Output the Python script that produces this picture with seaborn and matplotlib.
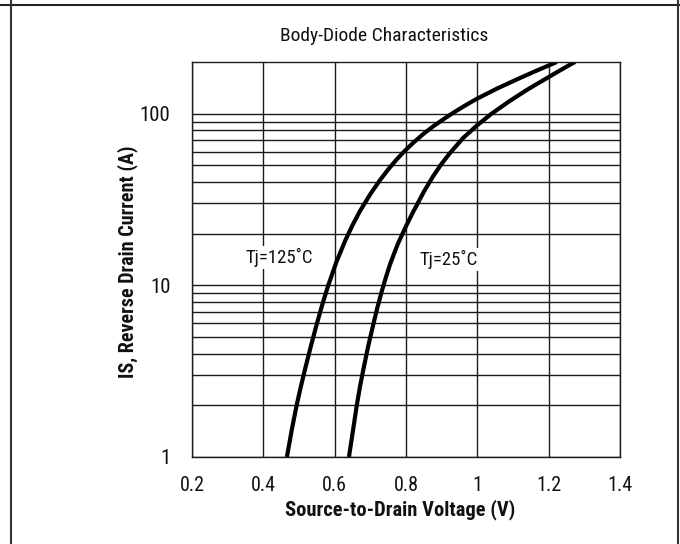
import numpy as np
import pandas as pd
import matplotlib
matplotlib.use("Agg")
import matplotlib.pyplot as plt
from matplotlib import font_manager as fm
from matplotlib.lines import Line2D
from matplotlib.ticker import FixedLocator, NullFormatter
import seaborn as sns

# ---- data ----
v_125 = [0.466, 0.480, 0.494, 0.505, 0.517, 0.533, 0.550, 0.566, 0.582, 0.605,
         0.630, 0.650, 0.671, 0.700, 0.727, 0.750, 0.774, 0.797, 0.820, 0.848,
         0.876, 0.906, 0.937, 0.968, 0.998, 1.055, 1.110, 1.160, 1.213, 1.223]
i_125 = [1.00, 1.45, 2.03, 2.56, 3.25, 4.40, 5.97, 7.81, 10.0, 13.7,
         18.3, 22.4, 27.1, 34.0, 41.0, 47.3, 54.2, 60.8, 67.6, 76.0,
         84.3, 93.1, 102.6, 112.3, 121.9, 140.0, 158.0, 175.9, 196.0, 200.0]

v_25 = [0.640, 0.651, 0.662, 0.671, 0.680, 0.694, 0.708, 0.720, 0.732, 0.744,
        0.755, 0.766, 0.778, 0.800, 0.820, 0.829, 0.850, 0.876, 0.900, 0.923,
        0.960, 0.998, 1.040, 1.092, 1.140, 1.185, 1.230, 1.269, 1.275]
i_25 = [1.00, 1.41, 2.00, 2.57, 3.20, 4.42, 5.89, 7.45, 9.23, 11.2,
        13.2, 15.2, 17.6, 22.1, 26.8, 29.0, 35.1, 43.2, 51.1, 58.9,
        72.1, 85.1, 100.0, 119.0, 138.0, 156.7, 177.8, 197.7, 200.0]

series_labels = ["Tj=125˚C", "Tj=25˚C"]
x_ticks = [0.2, 0.4, 0.6, 0.8, 1.0, 1.2, 1.4]
x_tick_labels = ["0.2", "0.4", "0.6", "0.8", "1", "1.2", "1.4"]
y_ticks = [1, 10, 100]
y_tick_labels = ["1", "10", "100"]
y_minor_grid = [2, 3, 4, 5, 6, 7, 8, 9, 20, 30, 40, 50, 60, 70, 80, 90]

df = pd.DataFrame({
    "V": v_125 + v_25,
    "I": i_125 + i_25,
    "Tj": [series_labels[0]] * len(v_125) + [series_labels[1]] * len(v_25),
})

# ---- style ----
sns.set_style("white")
names = {f.name for f in fm.fontManager.ttflist}
if "Liberation Sans Narrow" in names:
    FONT = "Liberation Sans Narrow"
elif "Roboto Condensed" in names:
    FONT = "Roboto Condensed"
else:
    FONT = "Liberation Sans"
plt.rcParams["font.family"] = [FONT, "DejaVu Sans"]

W, H = 680, 544
fig = plt.figure(figsize=(W / 100, H / 100), dpi=100)
fig.patch.set_facecolor("white")
ax = fig.add_axes([192 / W, (H - 457) / H, 428 / W, 395 / H])

sns.lineplot(data=df, x="V", y="I", hue="Tj", palette=["black", "black"],
             sort=False, estimator=None, legend=False, linewidth=3.0, ax=ax,
             solid_capstyle="butt", solid_joinstyle="round")

ax.set_yscale("log")
ax.set_xlim(0.2, 1.4)
ax.set_ylim(1, 200)

ax.set_xticks(x_ticks)
ax.set_xticklabels(x_tick_labels)
ax.set_yticks(y_ticks)
ax.set_yticklabels(y_tick_labels)
ax.yaxis.set_minor_locator(FixedLocator(y_minor_grid))
ax.yaxis.set_minor_formatter(NullFormatter())
ax.xaxis.set_minor_locator(FixedLocator([]))

ax.grid(True, which="major", axis="both", color="#1a1a1a", linewidth=1.0)
ax.grid(True, which="minor", axis="y", color="#1a1a1a", linewidth=1.0)
ax.set_axisbelow(True)

for s in ax.spines.values():
    s.set_color("#1a1a1a")
    s.set_linewidth(1.0)

ax.tick_params(axis="y", which="major", direction="out", length=5, width=1.0,
               color="#1a1a1a", pad=10.5, labelsize=15, labelcolor="#111111")
ax.tick_params(axis="y", which="minor", length=0)
ax.tick_params(axis="x", which="major", direction="out", length=4.5, width=1.0,
               color="#1a1a1a", pad=9, labelsize=14.5, labelcolor="#111111")

ax.set_xlabel("Source-to-Drain Voltage (V)", fontsize=14.8, fontweight="bold",
              color="#111111", va="center")
ax.xaxis.set_label_coords((400 - 192) / 428, (457 - 510) / 395)
ax.set_ylabel("IS, Reverse Drain Current (A)", fontsize=14.5, fontweight="bold",
              color="#111111", va="center")
ax.yaxis.set_label_coords((128 - 192) / 428, (457 - 262) / 395)

ax.set_title("Body-Diode Characteristics", fontsize=14, color="#111111",
             x=(384 - 192) / 428, y=(457 - 36) / 395, va="center", pad=0)

# curve labels
ax.text(0.349, 14.6, series_labels[0], fontsize=13.5, color="#111111",
        ha="left", va="center",
        bbox=dict(facecolor="white", edgecolor="none", pad=1.5))
ax.text(0.839, 14.2, series_labels[1], fontsize=13.5, color="#111111",
        ha="left", va="center",
        bbox=dict(facecolor="white", edgecolor="none", pad=1.5))

# outer frame lines (page border of the reference crop)
fig.add_artist(Line2D([0, 1], [1 - 4.5 / H] * 2, transform=fig.transFigure,
                      color="#222222", linewidth=1.5))
fig.add_artist(Line2D([10.5 / W] * 2, [0, 1], transform=fig.transFigure,
                      color="#333333", linewidth=1.5))
fig.add_artist(Line2D([677.5 / W] * 2, [0, 1], transform=fig.transFigure,
                      color="#333333", linewidth=1.5))

fig.savefig("out.png", dpi=100, facecolor="white")
